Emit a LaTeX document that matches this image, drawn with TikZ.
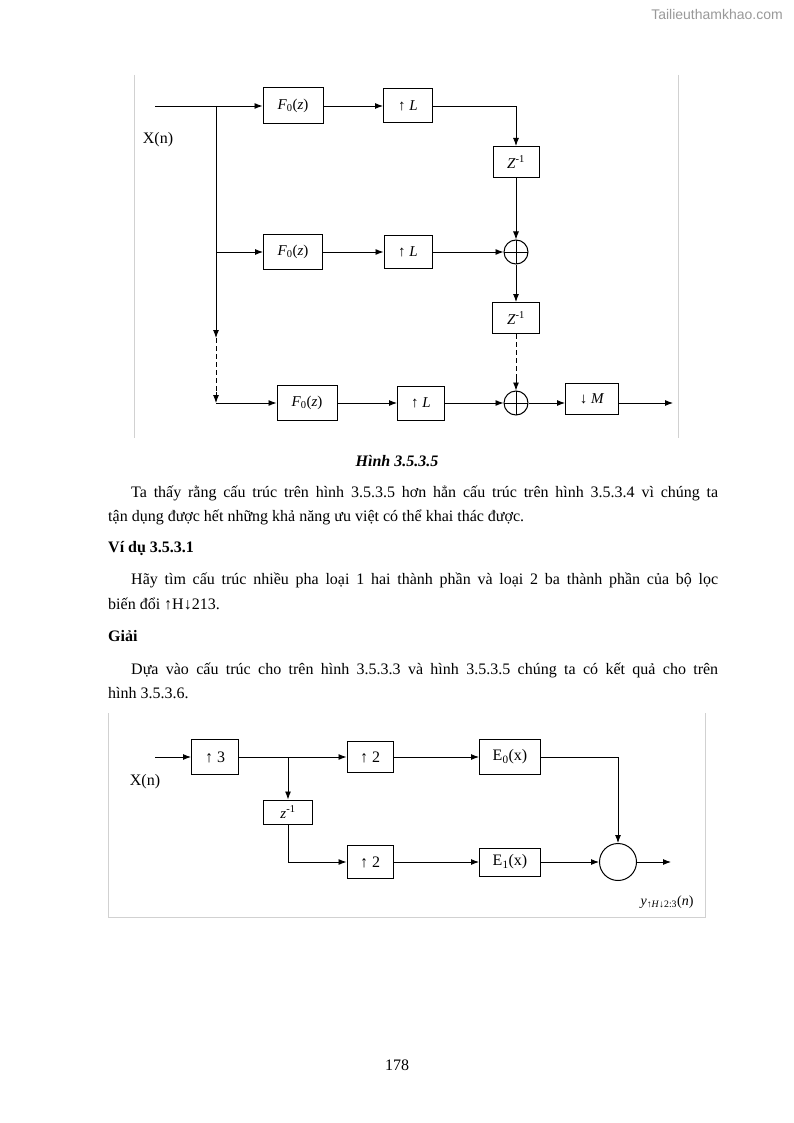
\documentclass[tikz,border=0pt]{standalone}
\usepackage{fontspec}
\setmainfont{Liberation Serif}
\newfontfamily\hdrfont{Liberation Sans}
\usetikzlibrary{arrows.meta,calc}
\tikzset{
  blk/.style={draw,line width=1pt,inner sep=0pt,font=\fontsize{15}{17}\selectfont},
  blkb/.style={draw,line width=1pt,inner sep=0pt,font=\fontsize{16}{18}\selectfont},
  arr/.style={-{Latex[length=8pt,width=6pt]},line width=0.9pt},
  ln/.style={line width=0.9pt},
  dsh/.style={line width=0.9pt,dash pattern=on 5pt off 3pt},
  sumc/.style={draw,circle,line width=1pt,minimum size=24pt,inner sep=0pt,
    path picture={\draw[line width=0.9pt] (path picture bounding box.north) -- (path picture bounding box.south)
      (path picture bounding box.west) -- (path picture bounding box.east);}},
  sumo/.style={draw,circle,line width=1pt,minimum size=37pt,inner sep=0pt},
  frm/.style={draw=black!18,line width=1pt},
  body/.style={font=\fontsize{16}{19}\selectfont,anchor=base west,inner sep=0pt},
}
\newcommand{\Fz}{\textit{F}\textsubscript{0}(\textit{z})}
\newcommand{\Zi}{\textit{Z}\textsuperscript{-1}}
\begin{document}
\begin{tikzpicture}[x=1pt,y=-1pt]
\useasboundingbox (0,0) rectangle (794,1123);
\fill[white] (0,0) rectangle (794,1123);

% header and page number
\node[font=\hdrfont\fontsize{14}{16}\selectfont,text=black!40,inner sep=0pt] (hdr) at (717,14) {Tailieuthamkhao.com};
\node[font=\fontsize{16}{19}\selectfont,inner sep=0pt] (pg) at (397,1065) {178};

% ---------- top diagram ----------
\draw[frm] (134,75) -- (134,438);
\draw[frm] (678,75) -- (678,438);

\coordinate (in1) at (155,106);
\coordinate (b1) at (216,106);
\coordinate (b2) at (216,252);
\coordinate (t1) at (216,338);
\coordinate (t2) at (216,392);
\coordinate (c3) at (216,403);
\node[font=\fontsize{16}{19}\selectfont,inner sep=0pt] (xn1) at (158,140) {X(n)};

\node[blk,minimum width=60pt,minimum height=36pt] (F1) at (293,106) {\Fz};
\node[blk,minimum width=49pt,minimum height=34pt] (L1) at (408,106) {↑ \textit{L}};
\node[blk,minimum width=46pt,minimum height=31pt] (Z1) at (516,162) {\Zi};
\node[sumc] (S1) at (516,252) {};
\node[blk,minimum width=59pt,minimum height=35pt] (F2) at (293,252) {\Fz};
\node[blk,minimum width=48pt,minimum height=32pt] (L2) at (408,252) {↑ \textit{L}};
\node[blk,minimum width=47pt,minimum height=31pt] (Z2) at (516,318) {\Zi};
\coordinate (d1) at (516,378);
\node[sumc] (S2) at (516,403) {};
\node[blk,minimum width=60pt,minimum height=35pt] (F3) at (307,403) {\Fz};
\node[blk,minimum width=47pt,minimum height=34pt] (L3) at (421,403) {↑ \textit{L}};
\node[blk,minimum width=53pt,minimum height=31pt] (M) at (592,399) {↓ \textit{M}};
\coordinate (out1) at (673,403);

\draw[arr] (in1) -- (F1);
\draw[arr] (F1) -- (L1);
\draw[arr] (L1.east) -| (Z1.north);
\draw[arr] (Z1) -- (S1);
\draw[arr] (b1) -- (t1);
\draw[dsh] (t1) -- (t2);
\draw[arr] (t2) -- (c3);
\draw[arr] (c3) -- (F3);
\draw[arr] (b2) -- (F2);
\draw[arr] (F2) -- (L2);
\draw[arr] (L2) -- (S1);
\draw[arr] (S1) -- (Z2);
\draw[dsh] (Z2) -- (d1);
\draw[arr] (d1) -- (S2);
\draw[arr] (F3) -- (L3);
\draw[arr] (L3) -- (S2);
\draw[arr] (S2) -- (S2 -| M.west);
\draw[arr] (S2 -| M.east) -- (out1);

\node[font=\bfseries\itshape\fontsize{16}{19}\selectfont,anchor=base,inner sep=0pt] (cap) at (397,466) {Hình 3.5.3.5};

% ---------- text ----------
\node[body] (p1) at (131,497) {\makebox[587pt][s]{Ta thấy rằng cấu trúc trên hình 3.5.3.5 hơn hẳn cấu trúc trên hình 3.5.3.4 vì chúng ta}};
\node[body] (p2) at (108,521) {tận dụng được hết những khả năng ưu việt có thể khai thác được.};
\node[body,font=\bfseries\fontsize{16}{19}\selectfont] (p3) at (108,552) {Ví dụ 3.5.3.1};
\node[body] (p4) at (131,584) {\makebox[587pt][s]{Hãy tìm cấu trúc nhiều pha loại 1 hai thành phần và loại 2 ba thành phần của bộ lọc}};
\node[body] (p5) at (108,609) {biến đổi ↑H↓213.};
\node[body,font=\bfseries\fontsize{16}{19}\selectfont] (p6) at (108,641) {Giải};
\node[body] (p7) at (131,674) {\makebox[587pt][s]{Dựa vào cấu trúc cho trên hình 3.5.3.3 và hình 3.5.3.5 chúng ta có kết quả cho trên}};
\node[body] (p8) at (108,698) {hình 3.5.3.6.};

% ---------- bottom diagram ----------
\draw[frm] (108,713) -- (108,917) -- (705,917) -- (705,713);

\coordinate (in2) at (155,757);
\coordinate (b3) at (288,757);
\coordinate (c4) at (288,862);
\node[font=\fontsize{16}{19}\selectfont,inner sep=0pt] (xn2) at (145,782) {X(n)};
\node[blkb,minimum width=47pt,minimum height=35pt] (U3) at (215,757) {↑ 3};
\node[blkb,minimum width=46pt,minimum height=31pt] (U2a) at (370,757) {↑ 2};
\node[blk,minimum width=49pt,minimum height=24pt] (Zb) at (288,812) {\textit{z}\textsuperscript{-1}};
\node[blkb,minimum width=46pt,minimum height=33pt] (U2b) at (370,862) {↑ 2};
\node[blkb,minimum width=61pt,minimum height=35pt] (E0) at (510,757) {E\textsubscript{0}(x)};
\node[blkb,minimum width=61pt,minimum height=28pt] (E1) at (510,862) {E\textsubscript{1}(x)};
\node[sumo] (Sb) at (618,862) {};
\coordinate (out2) at (671,862);
\node[font=\fontsize{14}{16}\selectfont,inner sep=0pt] (ylab) at (667,902) {\textit{y}\textsubscript{↑\textit{H}↓2:3}(\textit{n})};

\draw[arr] (in2) -- (U3);
\draw[arr] (U3) -- (U2a);
\draw[arr] (b3) -- (Zb);
\draw[ln] (Zb) -- (c4);
\draw[arr] (c4) -- (U2b);
\draw[arr] (U2a) -- (E0);
\draw[arr] (U2b) -- (E1);
\draw[arr] (E0.east) -| (Sb.north);
\draw[arr] (E1) -- (Sb);
\draw[arr] (Sb) -- (out2);
\end{tikzpicture}
\end{document}
